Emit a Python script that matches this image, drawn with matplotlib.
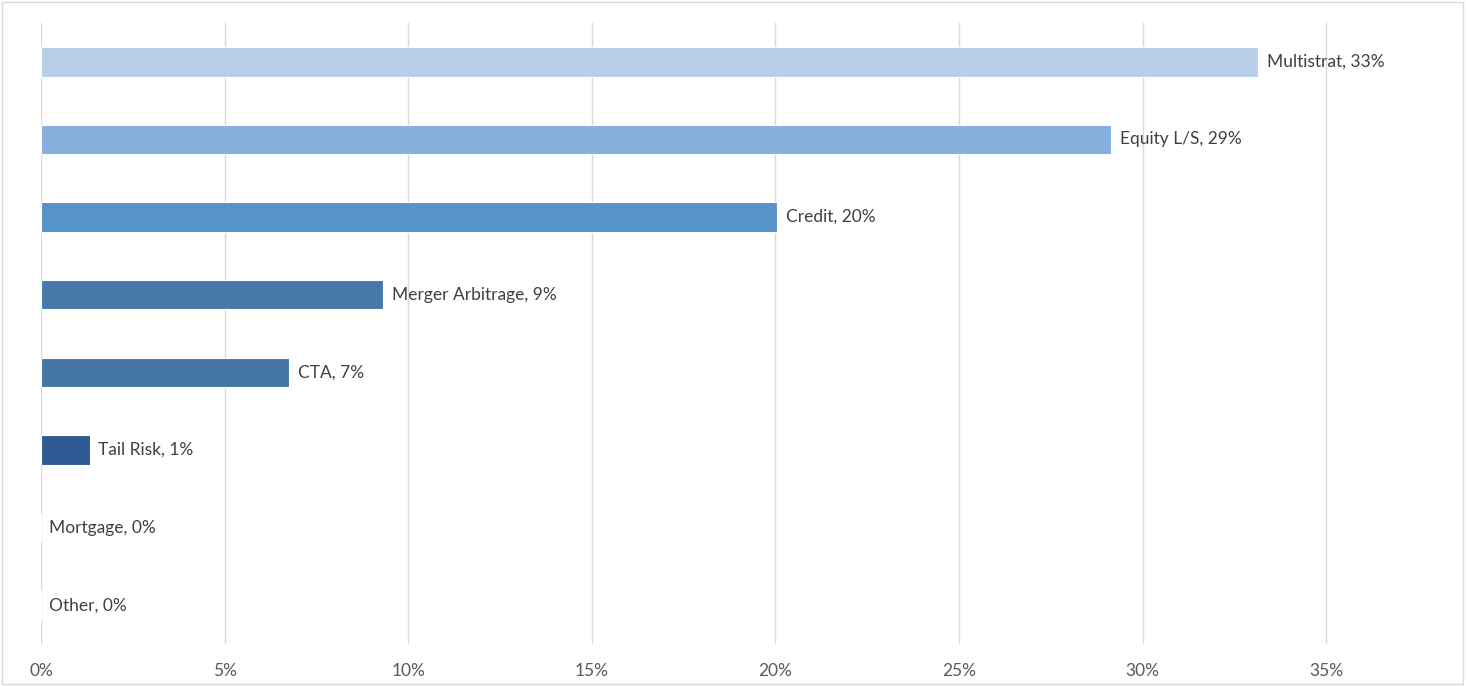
import matplotlib.pyplot as plt
from matplotlib.patches import Rectangle

# strategy allocation, top to bottom
strategies = ["Multistrat", "Equity L/S", "Credit", "Merger Arbitrage",
              "CTA", "Tail Risk", "Mortgage", "Other"]
weights = [33.15, 29.15, 20.05, 9.32, 6.76, 1.33, 0.0, 0.0]
bar_colors = ["#B9CFE9", "#86AFDD", "#5593C9", "#4679A8",
              "#4576A5", "#2F5A93", "#2F5A93", "#2F5A93"]
x_ticks = [0, 5, 10, 15, 20, 25, 30, 35]

plt.rcParams['font.family'] = ['Lato', 'DejaVu Sans']

fig = plt.figure(figsize=(14.68, 6.86), dpi=100)
ax = fig.add_axes([41 / 1468, 1 - 644 / 686, (1440 - 41) / 1468, (644 - 23) / 686])

ypos = list(range(len(strategies)))
ax.barh(ypos, weights, height=0.38, color=bar_colors,
        edgecolor="white", linewidth=0.8, zorder=2)

for y, name, w in zip(ypos, strategies, weights):
    ax.annotate(f"{name}, {round(w)}%", xy=(w, y), xytext=(6, 0),
                textcoords="offset points", va="center", ha="left",
                fontsize=12.5, color="#404040", zorder=3)

ax.set_xlim(0, 38.1)
ax.set_ylim(len(strategies) - 0.5, -0.5)
ax.set_xticks(x_ticks)
ax.set_xticklabels([f"{t}%" for t in x_ticks], fontsize=12.5, color="#595959")
ax.set_yticks([])
ax.tick_params(axis="x", length=0, pad=14)
ax.grid(axis="x", color="#D9D9D9", linewidth=1, zorder=0)
ax.set_axisbelow(True)
for s in ax.spines.values():
    s.set_visible(False)

# light frame round the whole chart
fig.patches.append(Rectangle((2 / 1468, 2 / 686), 1461 / 1468, 682 / 686,
                             transform=fig.transFigure, fill=False,
                             edgecolor="#D9D9D9", linewidth=1))

fig.savefig("out.png", dpi=100)
